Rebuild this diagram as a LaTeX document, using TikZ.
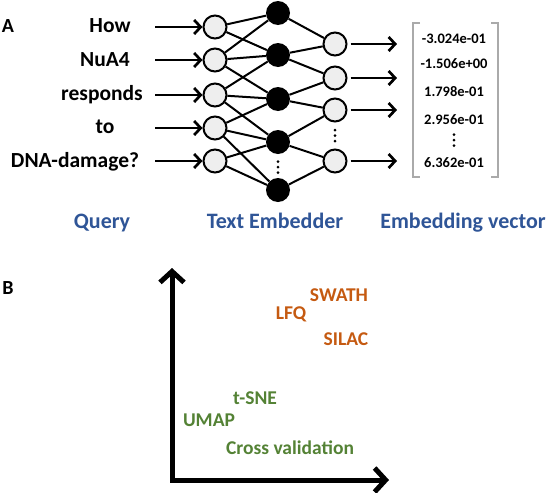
\documentclass[tikz,border=0pt]{standalone}
\usepackage{fontspec}
\setmainfont{Carlito}
\usetikzlibrary{arrows.meta,positioning,calc}
\definecolor{labelblue}{RGB}{47,85,151}
\definecolor{quantorange}{RGB}{197,90,17}
\definecolor{mlgreen}{RGB}{84,130,53}
\definecolor{nodegray}{RGB}{238,238,238}
\definecolor{bracketgray}{RGB}{170,170,170}

\begin{document}
\begin{tikzpicture}[x=1pt,y=-1pt,
    inp/.style={circle,draw,line width=2pt,fill=nodegray,minimum size=23pt,inner sep=0pt},
    hid/.style={circle,fill=black,minimum size=24pt,inner sep=0pt},
    wire/.style={line width=2pt},
    arr/.style={-{Straight Barb[length=6.5pt,width=14pt]},line width=2.7pt},
    word/.style={anchor=base,font=\bfseries\fontsize{21.5}{24}\selectfont},
    val/.style={anchor=base,font=\bfseries\fontsize{14.5}{16}\selectfont},
    caption/.style={anchor=base,text=labelblue,font=\bfseries\fontsize{22}{26}\selectfont},
    meth/.style={anchor=base,font=\bfseries\fontsize{19.5}{22}\selectfont},
    axis/.style={{Straight Barb[length=11pt,width=24pt]}-{Straight Barb[length=11pt,width=24pt]},line width=5pt}]
    \useasboundingbox (0,0) rectangle (550,493);

    % Pannello A
    \node[anchor=base,font=\bfseries\fontsize{20}{24}\selectfont] (labA) at (8,32) {A};

    % Parole della domanda
    \foreach \x/\b/\t [count=\i] in {110/32/How,105/66/NuA4,102/100/responds,105/133/to,75/167/DNA-damage?}
        \node[word] (w\i) at (\x,\b) {\t};

    % Strato di ingresso
    \foreach \y [count=\i] in {27,60,95,128,161} {
        \node[inp] (i\i) at (215,\y) {};
        \coordinate (a\i) at (155,\y);
        \draw[arr] (a\i) -- (i\i);
    }

    % Strato nascosto
    \foreach \y [count=\i] in {13,55,99,142,190}
        \node[hid] (h\i) at (278,\y) {};
    \coordinate (hdots) at (278,167);

    % Strato di uscita
    \foreach \y [count=\i] in {44,78,110,161} {
        \node[inp] (o\i) at (335,\y) {};
        \coordinate (e\i) at (397,\y);
        \draw[arr,shorten <=3pt] (o\i) -- (e\i);
    }
    \coordinate (odots) at (335,135.5);

    % Collegamenti
    \foreach \i/\j in {1/1,1/2,2/1,2/2,2/3,3/2,3/3,3/4,4/3,4/4,4/5,5/4,5/5}
        \draw[wire] (i\i) -- (h\j);
    \foreach \i/\j in {1/1,2/1,2/2,3/2,3/3,4/3,4/4,5/4}
        \draw[wire] (h\i) -- (o\j);

    % Vettore
    \draw[bracketgray,line width=2pt] (420,23) -- (413,23) -- (413,177) -- (420,177);
    \draw[bracketgray,line width=2pt] (491,23) -- (498,23) -- (498,177) -- (491,177);
    \foreach \b/\t [count=\i] in {43/-3.024e-01,68/-1.506e+00,96/1.798e-01,124/2.956e-01,167/6.362e-01}
        \node[val] (v\i) at (454,\b) {\t};
    \coordinate (vdots) at (454,140);

    % Puntini
    \foreach \c in {hdots,odots,vdots}
        \foreach \d in {-5.5,0,5.5}
            \fill ($(\c)+(0,\d)$) circle (1.5pt);

    % Didascalie
    \node[caption] (query) at (102,228) {Query};
    \node[caption] (embedder) at (275,228) {Text Embedder};
    \node[caption] (vector) at (463,228) {Embedding vector};

    % Pannello B
    \node[anchor=base,font=\bfseries\fontsize{20}{24}\selectfont] (labB) at (8,294) {B};
    \coordinate (ytop) at (172,268);
    \coordinate (origin) at (172,480);
    \coordinate (xend) at (389,480);
    \draw[axis] (ytop) -- (origin) -- (xend);

    \node[meth,text=quantorange] (swath) at (339,301) {SWATH};
    \node[meth,text=quantorange] (lfq) at (291,319) {LFQ};
    \node[meth,text=quantorange] (silac) at (346,345) {SILAC};
    \node[meth,text=mlgreen] (tsne) at (255,404) {t-SNE};
    \node[meth,text=mlgreen] (umap) at (209,426) {UMAP};
    \node[meth,text=mlgreen] (cross) at (290,454) {Cross validation};
\end{tikzpicture}
\end{document}
